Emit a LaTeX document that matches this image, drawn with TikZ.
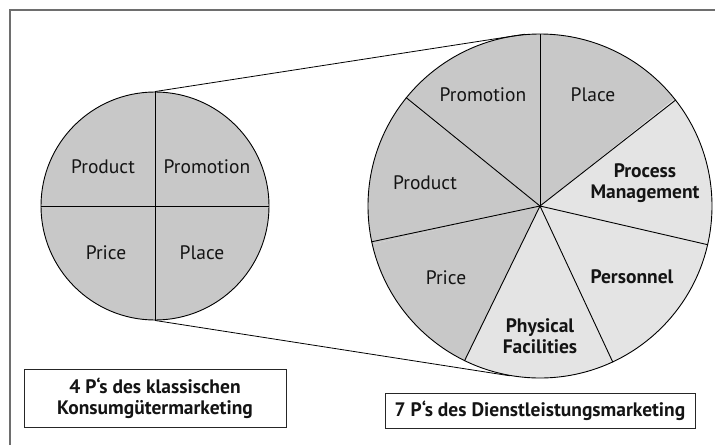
\documentclass[tikz,border=0pt]{standalone}
\usepackage{fontspec}
\setmainfont{PT Sans}
\usetikzlibrary{calc}
\definecolor{darkfill}{RGB}{200,200,200}
\definecolor{lightfill}{RGB}{228,228,228}
\definecolor{framegray}{RGB}{110,110,110}
\definecolor{ink}{RGB}{20,20,20}
\begin{document}
\begin{tikzpicture}[x=1pt,y=-1pt,
  lbl/.style={font=\fontsize{19.5}{21.5}\selectfont, text=ink, align=center, inner sep=0pt},
  blbl/.style={font=\fontsize{19.5}{21.5}\selectfont\bfseries, text=ink, align=center, inner sep=0pt},
  outline/.style={draw=black, line width=0.9pt},
  divider/.style={draw=black, line width=0.9pt},
  capbox/.style={draw=black!85, line width=0.9pt, fill=white, align=center,
    font=\fontsize{19.5}{21}\selectfont\bfseries, text=ink, inner sep=0pt},
  framestyle/.style={draw=framegray, line width=1.5pt},
  connector/.style={draw=black, line width=0.8pt}]
\useasboundingbox (0,0) rectangle (715,445);
% frame
\draw[framestyle] (10,445) -- (10,10) -- (715,10);

% left circle (4 P's)
\node[circle, outline, fill=darkfill, minimum size=228pt, inner sep=0pt] (L) at (155,206) {};
\draw[divider] (L.north) -- (L.south);
\draw[divider] (L.west) -- (L.east);
\node[lbl] (l1) at (103,167) {Product};
\node[lbl] (l2) at (207,167) {Promotion};
\node[lbl] (l3) at (106,253) {Price};
\node[lbl] (l4) at (202,253) {Place};

% big circle (7 P's)
\coordinate (Bc) at (540,206);
\foreach \a/\b/\c in {90/141.43/darkfill, 141.43/192.86/darkfill, 192.86/244.29/darkfill,
  244.29/295.71/lightfill, 295.71/347.14/lightfill, -12.86/38.57/lightfill, 38.57/90/darkfill}
  {\fill[\c] (Bc) -- +(-\a:172) arc[start angle=-\a, end angle=-\b, radius=172] -- cycle;}
\node[circle, outline, minimum size=344pt, inner sep=0pt] (B) at (Bc) {};
\foreach \a in {90,141.43,192.86,244.29,295.71,347.14,38.57}
  {\draw[divider] (B.center) -- (B.\a);}
\node[lbl] (r1) at (483,95) {Promotion};
\node[lbl] (r2) at (593,95) {Place};
\node[blbl] (r3) at (645,183) {Process\\Management};
\node[lbl] (r4) at (425,183) {Product};
\node[lbl] (r5) at (446,278) {Price};
\node[blbl] (r6) at (632,277) {Personnel};
\node[blbl] (r7) at (540,336) {Physical\\Facilities};

% connectors
\draw[connector] (L.north) -- (B.95);
\draw[connector] (L.south) -- (B.260);

% captions
\node[capbox, minimum width=262pt, minimum height=58pt] (c1) at (155,398) {4 P‘s des klassischen\\Konsumgütermarketing};
\node[capbox, minimum width=310pt, minimum height=35pt] (c2) at (540,410.5) {7 P‘s des Dienstleistungsmarketing};
\end{tikzpicture}
\end{document}
